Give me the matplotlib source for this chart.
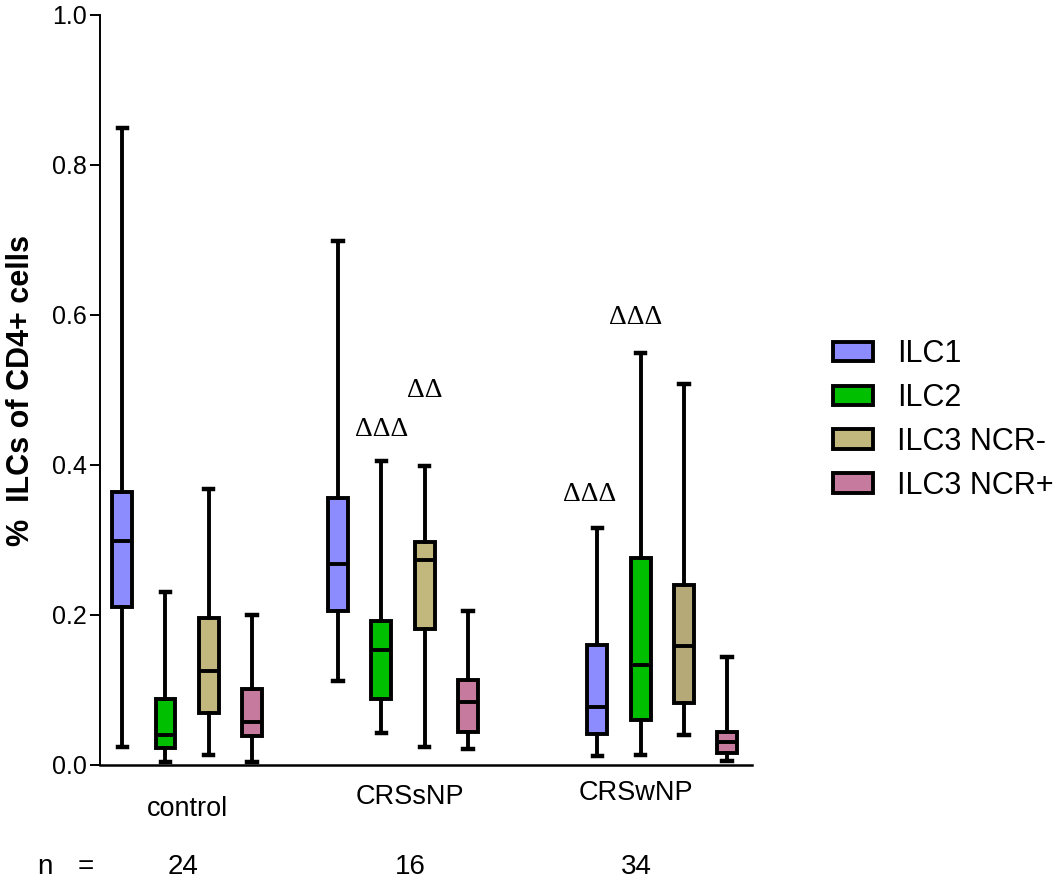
import numpy as np
import matplotlib.pyplot as plt

# Gruppen und Zelltypen
gruppen = ['control', 'CRSsNP', 'CRSwNP']
n_werte = ['24', '16', '34']
zelltypen = ['ILC1', 'ILC2', 'ILC3 NCR-', 'ILC3 NCR+']
farben = ['#8C8CFF', '#00BF00', '#C2B87E', '#C67B9E']

# Kennwerte je Gruppe (Zeilen) und Zelltyp (Spalten)
minimum = [[0.024, 0.004, 0.014, 0.004],
           [0.112, 0.043, 0.024, 0.022],
           [0.012, 0.014, 0.040, 0.006]]
q1 = [[0.211, 0.023, 0.069, 0.039],
      [0.205, 0.088, 0.181, 0.044],
      [0.041, 0.060, 0.083, 0.016]]
median = [[0.299, 0.040, 0.126, 0.058],
          [0.268, 0.154, 0.273, 0.084],
          [0.078, 0.133, 0.159, 0.031]]
q3 = [[0.364, 0.088, 0.196, 0.102],
      [0.356, 0.192, 0.298, 0.113],
      [0.160, 0.276, 0.240, 0.044]]
maximum = [[0.849, 0.231, 0.368, 0.200],
           [0.699, 0.405, 0.399, 0.206],
           [0.316, 0.549, 0.508, 0.144]]

# Signifikanzzeichen
zeichen = ['ΔΔΔ', 'ΔΔ', 'ΔΔΔ', 'ΔΔΔ']
zeichen_x = [6.0, 7.0, 10.83, 11.89]
zeichen_y = [0.448, 0.499, 0.361, 0.596]

gruppen_start = [0, 5, 11]
label_x = [1.5, 6.66, 11.9]
label_y = [-0.058, -0.043, -0.037]


def main():
    fig = plt.figure(figsize=(10.55, 8.82), dpi=100)
    ax = fig.add_axes([100 / 1055, 117 / 882, 652 / 1055, 750 / 882])

    stats = []
    positionen = []
    box_farben = []
    for g in range(len(gruppen)):
        for z in range(len(zelltypen)):
            stats.append(dict(med=median[g][z], q1=q1[g][z], q3=q3[g][z],
                              whislo=minimum[g][z], whishi=maximum[g][z],
                              fliers=[]))
            positionen.append(gruppen_start[g] + z)
            box_farben.append(farben[z])
    # etwas dunkleres Khaki in der CRSwNP-Gruppe
    box_farben[10] = '#B5A977'

    lw = 2.8
    teile = ax.bxp(stats, positions=positionen, widths=0.46, capwidths=0.22,
                   patch_artist=True, showfliers=False,
                   boxprops=dict(linewidth=lw, edgecolor='black'),
                   whiskerprops=dict(linewidth=lw, color='black'),
                   capprops=dict(linewidth=lw + 0.4, color='black'),
                   medianprops=dict(linewidth=lw, color='black'))
    for box, farbe in zip(teile['boxes'], box_farben):
        box.set_facecolor(farbe)
        box.set_joinstyle('miter')

    ax.set_xlim(-0.516, 14.58)
    ax.set_ylim(0, 1.0)
    ax.set_yticks(np.arange(0, 1.01, 0.2))
    ax.set_yticklabels(['%.1f' % v for v in np.arange(0, 1.01, 0.2)],
                       family='Liberation Sans', fontsize=18)
    ax.set_xticks([])
    ax.tick_params(axis='y', direction='out', length=7.2, width=1.4, pad=2)
    for seite in ['top', 'right']:
        ax.spines[seite].set_visible(False)
    ax.spines['left'].set_linewidth(1.4)
    ax.spines['bottom'].set_linewidth(1.8)

    ax.set_ylabel('%  ILCs of CD4+ cells', family='Liberation Sans',
                  fontsize=22, fontweight='bold', labelpad=12)

    # Gruppenbeschriftung und n-Zeile
    for name, x, y in zip(gruppen, label_x, label_y):
        ax.text(x, y, name, ha='center', va='center', fontsize=19.5,
                family='Liberation Sans', clip_on=False)
    for n, x in zip(n_werte, label_x):
        ax.text(x - 0.1 if n == '24' else x, -0.136, n, ha='center',
                va='center', fontsize=20, family='Liberation Sans',
                clip_on=False)
    ax.text(-1.79, -0.136, 'n', ha='center', va='center', fontsize=20,
            family='Liberation Sans', clip_on=False)
    ax.text(-0.84, -0.136, '=', ha='center', va='center', fontsize=20,
            family='Liberation Sans', clip_on=False)

    # Signifikanzzeichen
    for t, x, y in zip(zeichen, zeichen_x, zeichen_y):
        ax.text(x, y, t, ha='center', va='center', fontsize=20,
                family='Liberation Serif')

    # Legende
    ax.legend(teile['boxes'][:4], zelltypen, loc='center left',
              bbox_to_anchor=(833 / 1055, (882 - 420) / 882),
              bbox_transform=fig.transFigure, frameon=False,
              prop=dict(family='Liberation Sans', size=22),
              handlelength=1.3, handleheight=0.6, handletextpad=0.8,
              labelspacing=0.45, borderpad=0, borderaxespad=0)

    fig.savefig('out.png', dpi=100)


if __name__ == "__main__":
    main()
